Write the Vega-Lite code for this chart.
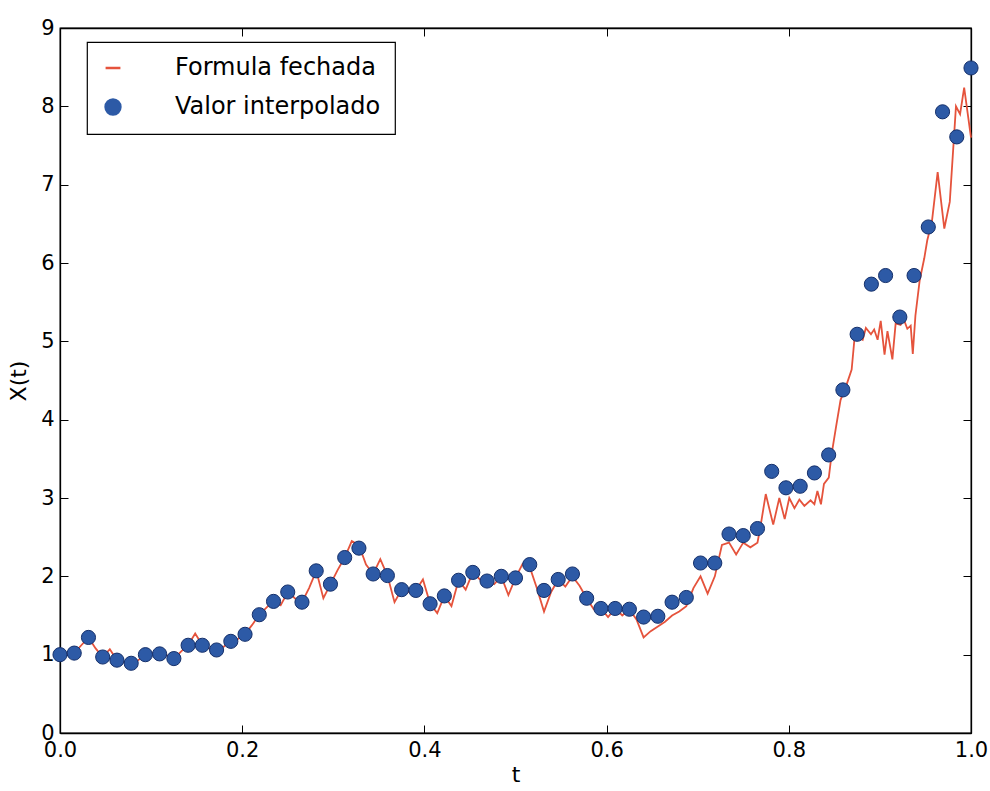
{
  "$schema": "https://vega.github.io/schema/vega-lite/v6.json",
  "width": 911,
  "height": 705,
  "autosize": {"type": "none"},
  "padding": {"left": 60, "top": 28, "right": 19, "bottom": 58},
  "background": "white",
  "config": {
    "font": "DejaVu Sans",
    "view": {"stroke": "black", "strokeWidth": 1.3},
    "axis": {
      "domainColor": "black", "domainWidth": 1.3, "tickColor": "black", "tickWidth": 1,
      "labelColor": "black", "titleColor": "black", "grid": false,
      "labelFontSize": 21, "titleFontSize": 22, "titleFontWeight": "normal",
      "tickSize": -8, "labelPadding": 14, "labelFlush": false, "labelOverlap": false
    },
    "legend": {
      "fillColor": "white", "strokeColor": "black", "strokeWidth": 1.2, "cornerRadius": 0,
      "labelFontSize": 24, "labelColor": "black", "labelLimit": 0, "padding": 14, "rowPadding": 14,
      "symbolSize": 220, "symbolStrokeWidth": 2.5, "labelOffset": 50,
      "orient": "none", "legendX": 27, "legendY": 14
    }
  },
  "datasets": {
    "formula": [
      {"serie": "Formula fechada", "t": 0.0000, "x": 1.00}, {"serie": "Formula fechada", "t": 0.0078, "x": 1.01},
      {"serie": "Formula fechada", "t": 0.0156, "x": 1.02}, {"serie": "Formula fechada", "t": 0.0234, "x": 1.12},
      {"serie": "Formula fechada", "t": 0.0313, "x": 1.22}, {"serie": "Formula fechada", "t": 0.0391, "x": 1.08},
      {"serie": "Formula fechada", "t": 0.0469, "x": 0.97}, {"serie": "Formula fechada", "t": 0.0547, "x": 1.07},
      {"serie": "Formula fechada", "t": 0.0625, "x": 0.93}, {"serie": "Formula fechada", "t": 0.0703, "x": 0.90},
      {"serie": "Formula fechada", "t": 0.0781, "x": 0.86}, {"serie": "Formula fechada", "t": 0.0859, "x": 0.93},
      {"serie": "Formula fechada", "t": 0.0938, "x": 1.00}, {"serie": "Formula fechada", "t": 0.1016, "x": 1.02},
      {"serie": "Formula fechada", "t": 0.1094, "x": 1.01}, {"serie": "Formula fechada", "t": 0.1172, "x": 0.99},
      {"serie": "Formula fechada", "t": 0.1250, "x": 0.95}, {"serie": "Formula fechada", "t": 0.1328, "x": 1.04},
      {"serie": "Formula fechada", "t": 0.1406, "x": 1.12}, {"serie": "Formula fechada", "t": 0.1484, "x": 1.27},
      {"serie": "Formula fechada", "t": 0.1563, "x": 1.12}, {"serie": "Formula fechada", "t": 0.1641, "x": 1.08},
      {"serie": "Formula fechada", "t": 0.1719, "x": 1.06}, {"serie": "Formula fechada", "t": 0.1797, "x": 1.10},
      {"serie": "Formula fechada", "t": 0.1875, "x": 1.17}, {"serie": "Formula fechada", "t": 0.1953, "x": 1.20},
      {"serie": "Formula fechada", "t": 0.2031, "x": 1.26}, {"serie": "Formula fechada", "t": 0.2109, "x": 1.38},
      {"serie": "Formula fechada", "t": 0.2188, "x": 1.51}, {"serie": "Formula fechada", "t": 0.2266, "x": 1.60},
      {"serie": "Formula fechada", "t": 0.2344, "x": 1.68}, {"serie": "Formula fechada", "t": 0.2422, "x": 1.63},
      {"serie": "Formula fechada", "t": 0.2500, "x": 1.80}, {"serie": "Formula fechada", "t": 0.2578, "x": 1.72},
      {"serie": "Formula fechada", "t": 0.2656, "x": 1.67}, {"serie": "Formula fechada", "t": 0.2734, "x": 1.85},
      {"serie": "Formula fechada", "t": 0.2813, "x": 2.07}, {"serie": "Formula fechada", "t": 0.2891, "x": 1.72},
      {"serie": "Formula fechada", "t": 0.2969, "x": 1.90}, {"serie": "Formula fechada", "t": 0.3047, "x": 2.08},
      {"serie": "Formula fechada", "t": 0.3125, "x": 2.24}, {"serie": "Formula fechada", "t": 0.3203, "x": 2.45},
      {"serie": "Formula fechada", "t": 0.3281, "x": 2.40}, {"serie": "Formula fechada", "t": 0.3359, "x": 2.15},
      {"serie": "Formula fechada", "t": 0.3438, "x": 2.03}, {"serie": "Formula fechada", "t": 0.3516, "x": 2.22},
      {"serie": "Formula fechada", "t": 0.3594, "x": 2.01}, {"serie": "Formula fechada", "t": 0.3672, "x": 1.67},
      {"serie": "Formula fechada", "t": 0.3750, "x": 1.83}, {"serie": "Formula fechada", "t": 0.3828, "x": 1.80},
      {"serie": "Formula fechada", "t": 0.3906, "x": 1.82}, {"serie": "Formula fechada", "t": 0.3984, "x": 1.96},
      {"serie": "Formula fechada", "t": 0.4063, "x": 1.65}, {"serie": "Formula fechada", "t": 0.4141, "x": 1.53},
      {"serie": "Formula fechada", "t": 0.4219, "x": 1.75}, {"serie": "Formula fechada", "t": 0.4297, "x": 1.62},
      {"serie": "Formula fechada", "t": 0.4375, "x": 1.95}, {"serie": "Formula fechada", "t": 0.4453, "x": 1.83},
      {"serie": "Formula fechada", "t": 0.4531, "x": 2.05}, {"serie": "Formula fechada", "t": 0.4609, "x": 1.96},
      {"serie": "Formula fechada", "t": 0.4688, "x": 1.94}, {"serie": "Formula fechada", "t": 0.4766, "x": 1.90},
      {"serie": "Formula fechada", "t": 0.4844, "x": 2.00}, {"serie": "Formula fechada", "t": 0.4922, "x": 1.76},
      {"serie": "Formula fechada", "t": 0.5000, "x": 1.98}, {"serie": "Formula fechada", "t": 0.5078, "x": 2.16},
      {"serie": "Formula fechada", "t": 0.5156, "x": 2.12}, {"serie": "Formula fechada", "t": 0.5234, "x": 1.85},
      {"serie": "Formula fechada", "t": 0.5313, "x": 1.55}, {"serie": "Formula fechada", "t": 0.5391, "x": 1.80},
      {"serie": "Formula fechada", "t": 0.5469, "x": 1.96}, {"serie": "Formula fechada", "t": 0.5547, "x": 1.87},
      {"serie": "Formula fechada", "t": 0.5625, "x": 2.00}, {"serie": "Formula fechada", "t": 0.5703, "x": 1.88},
      {"serie": "Formula fechada", "t": 0.5781, "x": 1.72}, {"serie": "Formula fechada", "t": 0.5859, "x": 1.58},
      {"serie": "Formula fechada", "t": 0.5938, "x": 1.59}, {"serie": "Formula fechada", "t": 0.6016, "x": 1.48},
      {"serie": "Formula fechada", "t": 0.6094, "x": 1.59}, {"serie": "Formula fechada", "t": 0.6172, "x": 1.50},
      {"serie": "Formula fechada", "t": 0.6250, "x": 1.58}, {"serie": "Formula fechada", "t": 0.6328, "x": 1.45},
      {"serie": "Formula fechada", "t": 0.6406, "x": 1.22}, {"serie": "Formula fechada", "t": 0.6484, "x": 1.30},
      {"serie": "Formula fechada", "t": 0.6563, "x": 1.36}, {"serie": "Formula fechada", "t": 0.6641, "x": 1.42},
      {"serie": "Formula fechada", "t": 0.6719, "x": 1.50}, {"serie": "Formula fechada", "t": 0.6797, "x": 1.55},
      {"serie": "Formula fechada", "t": 0.6875, "x": 1.62}, {"serie": "Formula fechada", "t": 0.6953, "x": 1.85},
      {"serie": "Formula fechada", "t": 0.7031, "x": 2.00}, {"serie": "Formula fechada", "t": 0.7109, "x": 1.78},
      {"serie": "Formula fechada", "t": 0.7188, "x": 2.00}, {"serie": "Formula fechada", "t": 0.7266, "x": 2.40},
      {"serie": "Formula fechada", "t": 0.7344, "x": 2.43}, {"serie": "Formula fechada", "t": 0.7422, "x": 2.28},
      {"serie": "Formula fechada", "t": 0.7500, "x": 2.43}, {"serie": "Formula fechada", "t": 0.7578, "x": 2.37},
      {"serie": "Formula fechada", "t": 0.7656, "x": 2.43}, {"serie": "Formula fechada", "t": 0.7684, "x": 2.60},
      {"serie": "Formula fechada", "t": 0.7747, "x": 3.05}, {"serie": "Formula fechada", "t": 0.7829, "x": 2.66},
      {"serie": "Formula fechada", "t": 0.7896, "x": 3.00}, {"serie": "Formula fechada", "t": 0.7955, "x": 2.73},
      {"serie": "Formula fechada", "t": 0.8005, "x": 3.00}, {"serie": "Formula fechada", "t": 0.8062, "x": 2.87},
      {"serie": "Formula fechada", "t": 0.8116, "x": 2.98}, {"serie": "Formula fechada", "t": 0.8171, "x": 2.90},
      {"serie": "Formula fechada", "t": 0.8239, "x": 2.97}, {"serie": "Formula fechada", "t": 0.8281, "x": 2.92},
      {"serie": "Formula fechada", "t": 0.8314, "x": 3.09}, {"serie": "Formula fechada", "t": 0.8353, "x": 2.92},
      {"serie": "Formula fechada", "t": 0.8386, "x": 3.18}, {"serie": "Formula fechada", "t": 0.8439, "x": 3.26},
      {"serie": "Formula fechada", "t": 0.8470, "x": 3.56}, {"serie": "Formula fechada", "t": 0.8519, "x": 3.91},
      {"serie": "Formula fechada", "t": 0.8568, "x": 4.25}, {"serie": "Formula fechada", "t": 0.8638, "x": 4.46},
      {"serie": "Formula fechada", "t": 0.8690, "x": 4.64}, {"serie": "Formula fechada", "t": 0.8720, "x": 5.02},
      {"serie": "Formula fechada", "t": 0.8756, "x": 5.06}, {"serie": "Formula fechada", "t": 0.8811, "x": 5.02},
      {"serie": "Formula fechada", "t": 0.8846, "x": 5.17}, {"serie": "Formula fechada", "t": 0.8902, "x": 5.09},
      {"serie": "Formula fechada", "t": 0.8937, "x": 5.15}, {"serie": "Formula fechada", "t": 0.8975, "x": 5.02},
      {"serie": "Formula fechada", "t": 0.9009, "x": 5.26}, {"serie": "Formula fechada", "t": 0.9051, "x": 4.83},
      {"serie": "Formula fechada", "t": 0.9083, "x": 5.13}, {"serie": "Formula fechada", "t": 0.9137, "x": 4.77},
      {"serie": "Formula fechada", "t": 0.9173, "x": 5.23}, {"serie": "Formula fechada", "t": 0.9227, "x": 5.21},
      {"serie": "Formula fechada", "t": 0.9262, "x": 5.28}, {"serie": "Formula fechada", "t": 0.9301, "x": 5.16},
      {"serie": "Formula fechada", "t": 0.9338, "x": 5.20}, {"serie": "Formula fechada", "t": 0.9361, "x": 4.84},
      {"serie": "Formula fechada", "t": 0.9390, "x": 5.33}, {"serie": "Formula fechada", "t": 0.9437, "x": 5.78},
      {"serie": "Formula fechada", "t": 0.9487, "x": 6.06}, {"serie": "Formula fechada", "t": 0.9520, "x": 6.29},
      {"serie": "Formula fechada", "t": 0.9570, "x": 6.52}, {"serie": "Formula fechada", "t": 0.9634, "x": 7.16},
      {"serie": "Formula fechada", "t": 0.9707, "x": 6.44}, {"serie": "Formula fechada", "t": 0.9767, "x": 6.78},
      {"serie": "Formula fechada", "t": 0.9810, "x": 7.55}, {"serie": "Formula fechada", "t": 0.9835, "x": 8.00},
      {"serie": "Formula fechada", "t": 0.9880, "x": 7.90}, {"serie": "Formula fechada", "t": 0.9925, "x": 8.24},
      {"serie": "Formula fechada", "t": 1.0000, "x": 7.60}
    ],
    "interp": [
      {"serie": "Valor interpolado", "t": 0.000000, "x": 1.00}, {"serie": "Valor interpolado", "t": 0.015625, "x": 1.02},
      {"serie": "Valor interpolado", "t": 0.031250, "x": 1.22}, {"serie": "Valor interpolado", "t": 0.046875, "x": 0.97},
      {"serie": "Valor interpolado", "t": 0.062500, "x": 0.93}, {"serie": "Valor interpolado", "t": 0.078125, "x": 0.89},
      {"serie": "Valor interpolado", "t": 0.093750, "x": 1.00}, {"serie": "Valor interpolado", "t": 0.109375, "x": 1.01},
      {"serie": "Valor interpolado", "t": 0.125000, "x": 0.95}, {"serie": "Valor interpolado", "t": 0.140625, "x": 1.12},
      {"serie": "Valor interpolado", "t": 0.156250, "x": 1.12}, {"serie": "Valor interpolado", "t": 0.171875, "x": 1.06},
      {"serie": "Valor interpolado", "t": 0.187500, "x": 1.17}, {"serie": "Valor interpolado", "t": 0.203125, "x": 1.26},
      {"serie": "Valor interpolado", "t": 0.218750, "x": 1.51}, {"serie": "Valor interpolado", "t": 0.234375, "x": 1.68},
      {"serie": "Valor interpolado", "t": 0.250000, "x": 1.80}, {"serie": "Valor interpolado", "t": 0.265625, "x": 1.67},
      {"serie": "Valor interpolado", "t": 0.281250, "x": 2.07}, {"serie": "Valor interpolado", "t": 0.296875, "x": 1.90},
      {"serie": "Valor interpolado", "t": 0.312500, "x": 2.24}, {"serie": "Valor interpolado", "t": 0.328125, "x": 2.36},
      {"serie": "Valor interpolado", "t": 0.343750, "x": 2.03}, {"serie": "Valor interpolado", "t": 0.359375, "x": 2.01},
      {"serie": "Valor interpolado", "t": 0.375000, "x": 1.83}, {"serie": "Valor interpolado", "t": 0.390625, "x": 1.82},
      {"serie": "Valor interpolado", "t": 0.406250, "x": 1.65}, {"serie": "Valor interpolado", "t": 0.421875, "x": 1.75},
      {"serie": "Valor interpolado", "t": 0.437500, "x": 1.95}, {"serie": "Valor interpolado", "t": 0.453125, "x": 2.05},
      {"serie": "Valor interpolado", "t": 0.468750, "x": 1.94}, {"serie": "Valor interpolado", "t": 0.484375, "x": 2.00},
      {"serie": "Valor interpolado", "t": 0.500000, "x": 1.98}, {"serie": "Valor interpolado", "t": 0.515625, "x": 2.15},
      {"serie": "Valor interpolado", "t": 0.531250, "x": 1.82}, {"serie": "Valor interpolado", "t": 0.546875, "x": 1.96},
      {"serie": "Valor interpolado", "t": 0.562500, "x": 2.03}, {"serie": "Valor interpolado", "t": 0.578125, "x": 1.72},
      {"serie": "Valor interpolado", "t": 0.593750, "x": 1.59}, {"serie": "Valor interpolado", "t": 0.609375, "x": 1.59},
      {"serie": "Valor interpolado", "t": 0.625000, "x": 1.58}, {"serie": "Valor interpolado", "t": 0.640625, "x": 1.48},
      {"serie": "Valor interpolado", "t": 0.656250, "x": 1.49}, {"serie": "Valor interpolado", "t": 0.671875, "x": 1.67},
      {"serie": "Valor interpolado", "t": 0.687500, "x": 1.73}, {"serie": "Valor interpolado", "t": 0.703125, "x": 2.17},
      {"serie": "Valor interpolado", "t": 0.718750, "x": 2.17}, {"serie": "Valor interpolado", "t": 0.734375, "x": 2.54},
      {"serie": "Valor interpolado", "t": 0.750000, "x": 2.52}, {"serie": "Valor interpolado", "t": 0.765625, "x": 2.61},
      {"serie": "Valor interpolado", "t": 0.781250, "x": 3.34}, {"serie": "Valor interpolado", "t": 0.796875, "x": 3.13},
      {"serie": "Valor interpolado", "t": 0.812500, "x": 3.15}, {"serie": "Valor interpolado", "t": 0.828125, "x": 3.32},
      {"serie": "Valor interpolado", "t": 0.843750, "x": 3.55}, {"serie": "Valor interpolado", "t": 0.859375, "x": 4.38},
      {"serie": "Valor interpolado", "t": 0.875000, "x": 5.09}, {"serie": "Valor interpolado", "t": 0.890625, "x": 5.73},
      {"serie": "Valor interpolado", "t": 0.906250, "x": 5.84}, {"serie": "Valor interpolado", "t": 0.921875, "x": 5.31},
      {"serie": "Valor interpolado", "t": 0.937500, "x": 5.84}, {"serie": "Valor interpolado", "t": 0.953125, "x": 6.46},
      {"serie": "Valor interpolado", "t": 0.968750, "x": 7.93}, {"serie": "Valor interpolado", "t": 0.984375, "x": 7.61},
      {"serie": "Valor interpolado", "t": 1.000000, "x": 8.49}
    ]
  },
  "resolve": {"axis": {"x": "independent", "y": "independent"}},
  "layer": [
    {
      "data": {"name": "formula"},
      "mark": {"type": "line", "strokeWidth": 1.8, "clip": false},
      "encoding": {
        "x": {"field": "t", "type": "quantitative", "scale": {"domain": [0, 1], "nice": false, "zero": false},
              "axis": {"orient": "bottom", "values": [0, 0.2, 0.4, 0.6, 0.8, 1.0], "format": ".1f", "title": "t", "titlePadding": 4}},
        "y": {"field": "x", "type": "quantitative", "scale": {"domain": [0, 9], "nice": false},
              "axis": {"orient": "left", "values": [0, 1, 2, 3, 4, 5, 6, 7, 8, 9], "format": "d", "title": "X(t)", "titlePadding": 10}},
        "color": {"field": "serie", "type": "nominal",
                  "scale": {"domain": ["Formula fechada", "Valor interpolado"], "range": ["#e5533c", "#2d5aa6"]},
                  "legend": {"title": null}}
      }
    },
    {
      "data": {"name": "interp"},
      "mark": {"type": "point", "filled": true, "size": 200, "opacity": 1, "stroke": "#15306b", "strokeWidth": 1},
      "encoding": {
        "x": {"field": "t", "type": "quantitative", "axis": null},
        "y": {"field": "x", "type": "quantitative", "axis": null},
        "color": {"field": "serie", "type": "nominal", "legend": {"title": null}},
        "shape": {"field": "serie", "type": "nominal",
                  "scale": {"domain": ["Formula fechada", "Valor interpolado"], "range": ["stroke", "circle"]},
                  "legend": {"title": null}}
      }
    },
    {
      "data": {"name": "interp"},
      "mark": {"type": "point", "opacity": 0},
      "encoding": {
        "x": {"field": "t", "type": "quantitative",
              "axis": {"orient": "top", "values": [0, 0.2, 0.4, 0.6, 0.8, 1.0], "labels": false, "title": null}},
        "y": {"field": "x", "type": "quantitative",
              "axis": {"orient": "right", "values": [0, 1, 2, 3, 4, 5, 6, 7, 8, 9], "labels": false, "title": null}}
      }
    }
  ]
}
